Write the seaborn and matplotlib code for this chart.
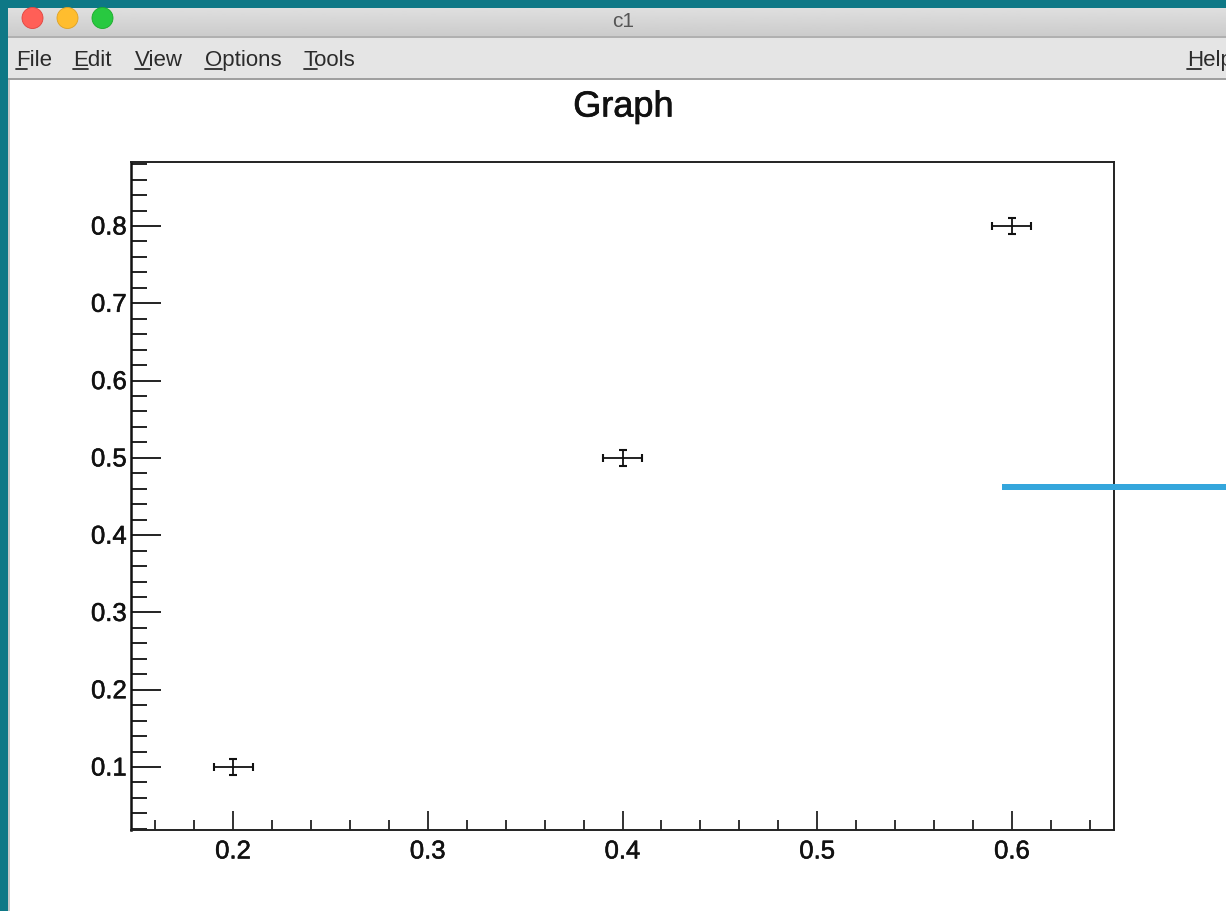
import seaborn as sns
import pandas as pd
import numpy as np
import matplotlib.pyplot as plt
import matplotlib.patheffects as pe
from matplotlib.lines import Line2D
from matplotlib.patches import Circle, Rectangle
from matplotlib.transforms import ScaledTranslation

# Graph points
x_values = [0.2, 0.4, 0.6]
y_values = [0.1, 0.5, 0.8]
x_errors = [0.01, 0.01, 0.01]
y_errors = [0.01, 0.01, 0.01]

x_ticks = [0.2, 0.3, 0.4, 0.5, 0.6]
y_ticks = [0.1, 0.2, 0.3, 0.4, 0.5, 0.6, 0.7, 0.8]

# Window menu entries: label, left edge, underline width
menu_items = [("File", 16, 11), ("Edit", 73, 15), ("View", 135, 15), ("Options", 205, 17), ("Tools", 304, 13)]
help_item = ("Help", 1187, 14)

sns.set_theme(style="ticks")
plt.rcParams['font.family'] = ['Liberation Sans', 'DejaVu Sans']

df = pd.DataFrame({"x": x_values, "y": y_values})

# Slightly heavier text, the reference is a retina screenshot
heavy = [pe.withStroke(linewidth=0.5, foreground="#111111")]

fig = plt.figure(figsize=(12.26, 9.12), dpi=100, facecolor="#0e7886")

# Window chrome, in pixel coordinates
bg = fig.add_axes([0, 0, 1, 1], zorder=0)
bg.axis("off")
gradient = np.linspace(0.875, 0.795, 30).reshape(-1, 1)
bg.imshow(gradient, cmap="gray", vmin=0, vmax=1, extent=(8, 1226, 37, 8), aspect="auto", zorder=1)
bg.set_xlim(0, 1226)
bg.set_ylim(911, -1)
bg.add_patch(Rectangle((8, 8), 1218, 904, color="white", lw=0, zorder=0))
bg.add_patch(Rectangle((8, 37), 1218, 42, color="#e5e5e5", lw=0, zorder=2))
bg.add_patch(Rectangle((8, 36), 1218, 2, color="#b0b0b0", lw=0, zorder=2))
bg.add_patch(Rectangle((8, 78), 1218, 2, color="#a0a0a0", lw=0, zorder=2))
bg.add_patch(Rectangle((8, 80), 1.5, 832, color="#c8c8c8", lw=0, zorder=2))
for cx, face, edge in [(32.5, "#ff5f57", "#e0443e"), (67.5, "#ffbd2e", "#dea123"), (102.5, "#28c940", "#1aab29")]:
    bg.add_patch(Circle((cx, 18), 10.5, facecolor=face, edgecolor=edge, lw=0.6, zorder=3))
bg.text(623, 20.5, "c1", ha="center", va="center", fontsize=15, color="#555555", zorder=3)
for label, left, width in menu_items + [help_item]:
    bg.text(left, 59.5, label, ha="left", va="center", fontsize=16, color="#2b2b2b", zorder=3)
    bg.add_line(Line2D([left, left + width], [69, 69], color="#2b2b2b", lw=1.3, zorder=3))

# The graph itself
ax = fig.add_axes([131 / 1226, 1 - 831 / 912, 983 / 1226, 668 / 912], zorder=1)
ax.patch.set_alpha(0)
sns.scatterplot(data=df, x="x", y="y", color="black", s=1, linewidth=0, ax=ax)
ax.errorbar(x_values, y_values, xerr=x_errors, yerr=y_errors, fmt="none", ecolor="#111111",
            elinewidth=1.3, capsize=2.7, capthick=1.5)

ax.set_xlim(0.1476, 0.6524)
ax.set_ylim(0.0185, 0.8828)
ax.set_xlabel("")
ax.set_ylabel("")
ax.set_xticks(x_ticks)
ax.set_yticks(y_ticks)
ax.set_xticklabels([f"{t:.1f}" for t in x_ticks])
ax.set_yticklabels([f"{t:.1f}" for t in y_ticks])
ax.set_xticks(np.arange(0.16, 0.65, 0.02), minor=True)
ax.set_yticks(np.arange(0.02, 0.89, 0.02), minor=True)

ax.tick_params(axis="x", which="major", direction="in", length=13.7, width=1.3, labelsize=18.5, pad=6.8, color="#222222", labelcolor="#111111")
ax.tick_params(axis="x", which="minor", direction="in", length=7, width=1.3, color="#222222")
ax.tick_params(axis="y", which="major", direction="in", length=21.6, width=1.3, labelsize=18.5, pad=3, color="#111111", labelcolor="#111111")
ax.tick_params(axis="y", which="minor", direction="in", length=11.5, width=1.3, color="#111111")
for side in ["top", "right", "bottom", "left"]:
    ax.spines[side].set_visible(True)
    ax.spines[side].set_linewidth(1.4)
    ax.spines[side].set_color("#222222")
ax.spines["left"].set_linewidth(1.8)
ax.spines["left"].set_color("#111111")

nudge = ScaledTranslation(0, 1 / 100, fig.dpi_scale_trans)
for label in ax.get_yticklabels():
    label.set_transform(label.get_transform() + nudge)
for label in ax.get_xticklabels() + ax.get_yticklabels():
    label.set_path_effects([pe.withStroke(linewidth=0.4, foreground="#111111")])

title = fig.text(623.5 / 1226, 1 - 108 / 912, "Graph", ha="center", va="center", fontsize=26, color="#111111")
title.set_path_effects(heavy)

# Blue stroke running over the frame and off the window
fig.add_artist(Rectangle((1002, 483.5), 224, 6, transform=bg.transData, color="#34a6dc", lw=0, zorder=5))

fig.savefig("out.png", dpi=100, facecolor=fig.get_facecolor())
